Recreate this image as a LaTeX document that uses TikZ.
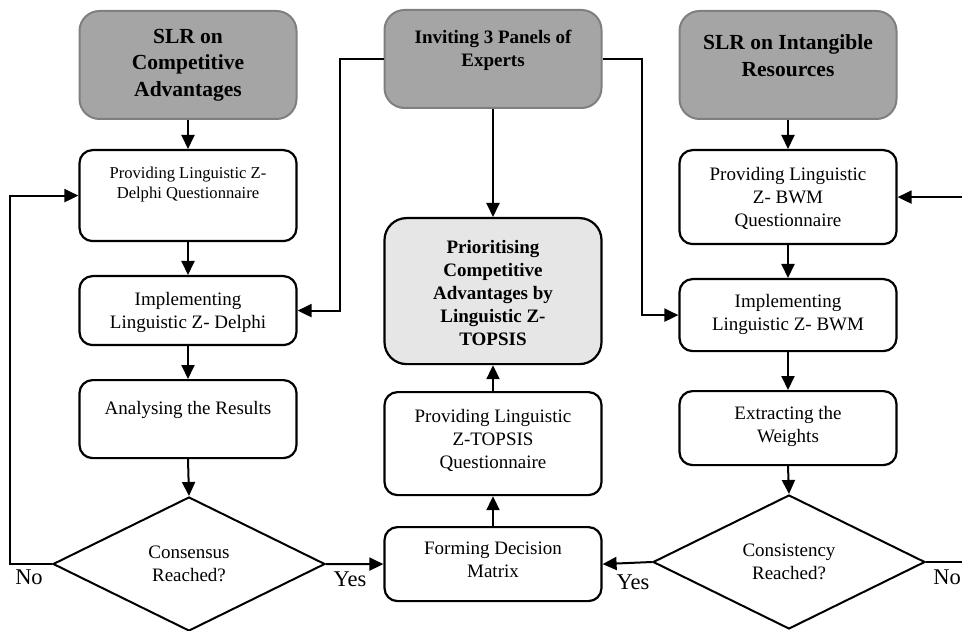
\documentclass[tikz,border=0pt]{standalone}
\usepackage{fontspec}
\setmainfont{Liberation Serif}
\usepackage{xcolor}
\usepackage{tikz}
\usetikzlibrary{shapes.geometric}
\usetikzlibrary{arrows.meta}

\definecolor{headgray}{HTML}{A5A5A5}
\definecolor{headline}{HTML}{7F7F7F}
\definecolor{topsisgray}{HTML}{E7E6E6}

% text block of a box: height, width, space above, lines
\newcommand{\flowtext}[4]{\parbox[c][#1][t]{#2}{\vspace*{#3}\centering #4}}

\begin{document}
\begin{tikzpicture}[x=1pt, y=-1pt,
  flowbox/.style={draw, line width=2.2pt, rounded corners=13pt, inner sep=0pt, anchor=north, minimum width=217pt, font=\fontsize{19}{23}\selectfont},
  headbox/.style={flowbox, draw=headline, line width=2pt, fill=headgray, rounded corners=20pt, font=\fontsize{21.5}{26.5}\selectfont\bfseries},
  decision/.style={diamond, draw, line width=2pt, inner sep=0pt, minimum width=272pt, minimum height=134pt, align=center, font=\fontsize{19}{23}\selectfont},
  flow/.style={line width=2pt, -{Triangle[length=14pt,width=13pt]}},
  answer/.style={font=\fontsize{22.5}{26}\selectfont}
]

\useasboundingbox (0,0) rectangle (962,631);

% Left column: Delphi
\node[headbox] (slrca) at (188,10) {\flowtext{108pt}{200pt}{18pt}{SLR on\\Competitive\\Advantages}};
\node[flowbox, font=\fontsize{16.6}{20}\selectfont] (delphiq) at (188,149) {\flowtext{91pt}{205pt}{17pt}{Providing Linguistic Z-\\Delphi Questionnaire}};
\node[flowbox] (delphiimp) at (188,275) {\flowtext{69pt}{205pt}{16pt}{Implementing\\Linguistic Z- Delphi}};
\node[flowbox] (analyse) at (188,379) {\flowtext{78pt}{205pt}{21pt}{Analysing the Results}};
\node[decision] (consensus) at (189,564) {Consensus\\Reached?};

% Centre column: TOPSIS
\node[headbox, font=\fontsize{19}{23}\selectfont\bfseries] (panels) at (493,9) {\flowtext{98pt}{205pt}{20pt}{Inviting 3 Panels of\\Experts}};
\node[flowbox, fill=topsisgray, rounded corners=22pt, font=\fontsize{19}{23}\selectfont\bfseries] (prioritise) at (493,217) {\flowtext{146pt}{205pt}{22pt}{Prioritising\\Competitive\\Advantages by\\Linguistic Z-\\TOPSIS}};
\node[flowbox] (topsisq) at (493,391) {\flowtext{103pt}{205pt}{17pt}{Providing Linguistic\\Z-TOPSIS\\Questionnaire}};
\node[flowbox] (forming) at (493,526) {\flowtext{74pt}{205pt}{15pt}{Forming Decision\\Matrix}};

% Right column: BWM
\node[headbox] (slrir) at (788,10) {\flowtext{108pt}{205pt}{24pt}{SLR on Intangible\\Resources}};
\node[flowbox] (bwmq) at (788,149) {\flowtext{94pt}{205pt}{17pt}{Providing Linguistic\\Z- BWM\\Questionnaire}};
\node[flowbox] (bwmimp) at (788,278) {\flowtext{72pt}{205pt}{15pt}{Implementing\\Linguistic Z- BWM}};
\node[flowbox] (weights) at (788,390) {\flowtext{74pt}{205pt}{15pt}{Extracting the\\Weights}};
\node[decision] (consistency) at (789,562) {Consistency\\Reached?};

% Yes / No labels
\node[answer] (noleft) at (29,577) {No};
\node[answer] (yesleft) at (350,579) {Yes};
\node[answer] (yesright) at (633,582) {Yes};
\node[answer] (noright) at (947,577) {No};

% turning points of the loops
\coordinate (turnleft) at (10,564);
\coordinate (turnright) at (965,562);

% Arrows
\draw[flow] (slrca.south) -- (delphiq.north);
\draw[flow] (delphiq.south) -- (delphiimp.north);
\draw[flow] (delphiimp.south) -- (analyse.north);
\draw[flow] (analyse.south) -- (consensus.north);
\draw[flow] (consensus.west) -- (turnleft) |- (delphiq.west);
\draw[flow] (consensus.east) -- (forming.west);

\draw[flow] (panels.west) -- ++(-44,0) |- (delphiimp.east);
\draw[flow] (panels.east) -- ++(39,0) |- (bwmimp.west);
\draw[flow] (panels.south) -- (prioritise.north);
\draw[flow] (forming.north) -- (topsisq.south);
\draw[flow] (topsisq.north) -- (prioritise.south);

\draw[flow] (slrir.south) -- (bwmq.north);
\draw[flow] (bwmq.south) -- (bwmimp.north);
\draw[flow] (bwmimp.south) -- (weights.north);
\draw[flow] (weights.south) -- (consistency.north);
\draw[flow] (consistency.west) -- (forming.east);
\draw[flow] (consistency.east) -- (turnright) |- (bwmq.east);

\end{tikzpicture}
\end{document}
